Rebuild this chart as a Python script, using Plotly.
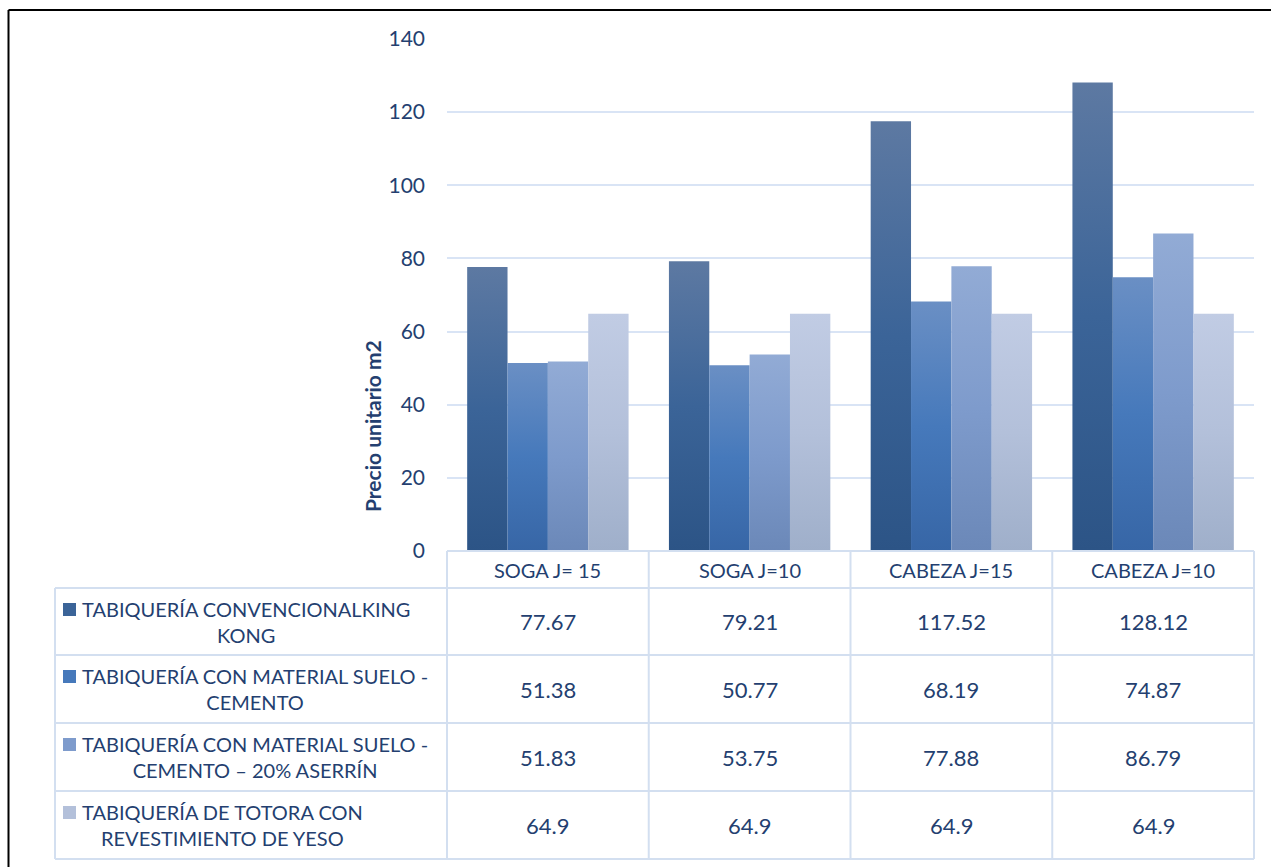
import plotly.graph_objects as go

# ---- data ----
categories = ["SOGA J= 15", "SOGA J=10", "CABEZA J=15", "CABEZA J=10"]
series_names = [
    "TABIQUERÍA CONVENCIONALKING<br>KONG",
    "TABIQUERÍA CON MATERIAL SUELO -<br>CEMENTO",
    "TABIQUERÍA CON MATERIAL SUELO -<br>CEMENTO – 20% ASERRÍN",
    "TABIQUERÍA DE TOTORA CON<br>REVESTIMIENTO DE YESO",
]
convencional = [77.67, 79.21, 117.52, 128.12]
suelo_cemento = [51.38, 50.77, 68.19, 74.87]
suelo_cemento_aserrin = [51.83, 53.75, 77.88, 86.79]
totora_yeso = [64.9, 64.9, 64.9, 64.9]
series_values = [convencional, suelo_cemento, suelo_cemento_aserrin, totora_yeso]
y_ticks = [0, 20, 40, 60, 80, 100, 120, 140]

# ---- styling ----
FONT = "Lato"
TEXT = "#243f70"
GRID = "#d9e4f5"
TABLE_LINE = "#d3dff0"
gradients = [
    ["#5d79a2", "#3b6498", "#2c5486"],
    ["#6a8fc4", "#4679bb", "#3766a6"],
    ["#92abd5", "#7e9bcc", "#6b88b8"],
    ["#c1cce4", "#b3c0da", "#9fafca"],
]
solid = [g[1] for g in gradients]

W_FIG, H_FIG = 1271, 867
L, R, T, B = 447, 1254, 39, 551
PW, PH = R - L, B - T


def px_x(px):
    return (px - L) / PW


def px_y(py):
    return (B - py) / PH


fig = go.Figure()
for name, vals, col in zip(series_names, series_values, solid):
    fig.add_trace(go.Bar(
        x=categories, y=vals, name=name.replace("<br>", " "),
        marker=dict(color=col, line=dict(width=0)),
        showlegend=False,
    ))

shapes = []
annotations = []

# outer frame (top and left edges)
shapes.append(dict(type="line", xref="paper", yref="paper",
                   x0=px_x(8.5), x1=px_x(1275), y0=px_y(10), y1=px_y(10),
                   line=dict(color="black", width=2)))
shapes.append(dict(type="line", xref="paper", yref="paper",
                   x0=px_x(8.5), x1=px_x(8.5), y0=px_y(10), y1=px_y(870),
                   line=dict(color="black", width=2)))

# data table below the plot
n = len(categories)
row_edges = [588, 655, 723, 791, 859]
col_edges = [L + i * PW / n for i in range(n + 1)]
tbl_left = 55
line = dict(color=TABLE_LINE, width=2)

# header row (category labels)
shapes.append(dict(type="line", xref="paper", yref="paper",
                   x0=0, x1=1, y0=px_y(B), y1=px_y(B), line=line))
for cx in col_edges:
    shapes.append(dict(type="line", xref="paper", yref="paper",
                       x0=px_x(cx), x1=px_x(cx), y0=px_y(B), y1=px_y(row_edges[-1]),
                       line=line))
for ry in row_edges:
    shapes.append(dict(type="line", xref="paper", yref="paper",
                       x0=px_x(tbl_left), x1=1, y0=px_y(ry), y1=px_y(ry), line=line))
shapes.append(dict(type="line", xref="paper", yref="paper",
                   x0=px_x(tbl_left), x1=px_x(tbl_left),
                   y0=px_y(row_edges[0]), y1=px_y(row_edges[-1]), line=line))

for i, c in enumerate(categories):
    annotations.append(dict(
        x=(i + 0.5) / n, y=px_y((B + row_edges[0]) / 2), xref="paper", yref="paper",
        text=c, showarrow=False, xanchor="center", yanchor="middle",
        font=dict(family=FONT, size=20, color=TEXT)))

for r, (name, vals) in enumerate(zip(series_names, series_values)):
    top, bot = row_edges[r], row_edges[r + 1]
    mid = (top + bot) / 2
    # legend key
    shapes.append(dict(type="rect", xref="paper", yref="paper",
                       x0=px_x(63), x1=px_x(76), y0=px_y(top + 15), y1=px_y(top + 28),
                       fillcolor=solid[r], line=dict(width=0)))
    annotations.append(dict(
        x=px_x(80), y=px_y(mid), xref="paper", yref="paper",
        text=name, showarrow=False, xanchor="left", yanchor="middle", align="center",
        font=dict(family=FONT, size=20, color=TEXT)))
    for i, v in enumerate(vals):
        annotations.append(dict(
            x=(i + 0.5) / n, y=px_y(mid), xref="paper", yref="paper",
            text=f"{v:g}", showarrow=False, xanchor="center", yanchor="middle",
            font=dict(family=FONT, size=22, color=TEXT)))

# y-axis title
annotations.append(dict(
    x=px_x(372), y=px_y(426), xref="paper", yref="paper",
    text="<b>Precio unitario m2</b>", showarrow=False, textangle=-90,
    xanchor="center", yanchor="middle",
    font=dict(family=FONT, size=21, color=TEXT)))

fig.update_layout(
    width=W_FIG, height=H_FIG,
    margin=dict(l=L, r=W_FIG - R, t=T, b=H_FIG - B),
    paper_bgcolor="white", plot_bgcolor="white",
    barmode="group", bargap=0.2, bargroupgap=0,
    font=dict(family=FONT, color=TEXT),
    shapes=shapes, annotations=annotations,
    xaxis=dict(showticklabels=False, showgrid=False, zeroline=False,
               showline=False, ticks=""),
    yaxis=dict(range=[0, 140], tickvals=y_ticks, showgrid=True,
               gridcolor=GRID, gridwidth=2, zeroline=False, showline=False,
               ticks="", ticklabelstandoff=21,
               tickfont=dict(family=FONT, size=21, color=TEXT)),
)

grad_js = str(gradients).replace("'", '"')
post = """
(function(){
  var gd = document.getElementById('{plot_id}');
  var ns = 'http://www.w3.org/2000/svg';
  var svg = gd.querySelector('svg.main-svg');
  var defs = svg.querySelector('defs');
  var grads = %s;
  grads.forEach(function(stops, i){
    var lg = document.createElementNS(ns, 'linearGradient');
    lg.setAttribute('id', 'barfill' + i);
    lg.setAttribute('x1', '0'); lg.setAttribute('y1', '0');
    lg.setAttribute('x2', '0'); lg.setAttribute('y2', '1');
    stops.forEach(function(c, j){
      var st = document.createElementNS(ns, 'stop');
      st.setAttribute('offset', String(j / (stops.length - 1)));
      st.setAttribute('stop-color', c);
      lg.appendChild(st);
    });
    defs.appendChild(lg);
  });
  gd.querySelectorAll('.barlayer .trace').forEach(function(t, i){
    t.querySelectorAll('.point path').forEach(function(p){
      p.style.fill = 'url(#barfill' + i + ')';
    });
  });
})();
""" % grad_js

fig.write_html("out.html", post_script=post)
